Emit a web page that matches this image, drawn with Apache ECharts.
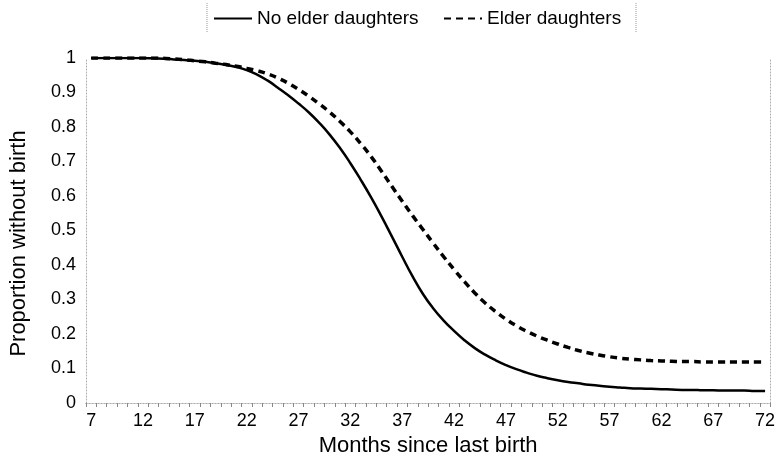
<!DOCTYPE html>
<html>
<head>
<meta charset="utf-8">
<script src="https://cdn.jsdelivr.net/npm/echarts@6/dist/echarts.min.js"></script>
<style>
  html, body { margin: 0; padding: 0; background: #fff; }
  #chart { width: 778px; height: 469px; }
</style>
</head>
<body>
<div id="chart"></div>
<script>
// months since last birth, 7..72
var months = [];
for (var m = 7; m <= 72; m++) months.push(String(m));

var noElder = [
    1.000, 1.000, 1.000, 1.000, 1.000, 1.000, 0.999, 0.998, 0.996, 0.994,
    0.992, 0.989, 0.985, 0.980, 0.974, 0.965, 0.952, 0.935, 0.914, 0.892,
    0.868, 0.842, 0.812, 0.778, 0.739, 0.695, 0.647, 0.596, 0.541, 0.483,
    0.424, 0.367, 0.316, 0.274, 0.239, 0.209, 0.182, 0.159, 0.140, 0.124,
    0.110, 0.098, 0.088, 0.079, 0.072, 0.066, 0.061, 0.057, 0.053, 0.050,
    0.047, 0.045, 0.043, 0.042, 0.041, 0.040, 0.039, 0.038, 0.038, 0.037,
    0.037, 0.036, 0.036, 0.036, 0.035, 0.035
];
var elder = [
    1.000, 1.000, 1.000, 1.000, 1.000, 1.000, 1.000, 0.999, 0.997, 0.995,
    0.992, 0.989, 0.985, 0.981, 0.976, 0.970, 0.963, 0.954, 0.942, 0.927,
    0.909, 0.889, 0.867, 0.843, 0.816, 0.786, 0.752, 0.714, 0.672, 0.628,
    0.585, 0.543, 0.503, 0.463, 0.424, 0.387, 0.352, 0.319, 0.290, 0.265,
    0.243, 0.224, 0.208, 0.194, 0.182, 0.171, 0.161, 0.152, 0.145, 0.139,
    0.134, 0.130, 0.127, 0.125, 0.123, 0.122, 0.121, 0.120, 0.120, 0.119,
    0.119, 0.119, 0.119, 0.119, 0.119, 0.119
];

var font = '"Liberation Sans", Arial, sans-serif';
var frame = { lineStyle: { color: '#aaa', width: 1, type: [1, 2] } };
var legendText = { fontSize: 19, color: '#000', fontFamily: font };

var chart = echarts.init(document.getElementById('chart'));

var option = {
    animation: false,
    textStyle: { fontFamily: font, color: '#000' },
    grid: { left: 75, right: 7, top: 58, bottom: 66 },
    legend: [{
        top: 4,
        left: 208,
        itemWidth: 38,
        itemHeight: 14,
        itemStyle: { opacity: 0 },
        textStyle: legendText,
        data: ['No elder daughters']
    }, {
        top: 4,
        left: 438,
        itemWidth: 38,
        itemHeight: 14,
        itemStyle: { opacity: 0 },
        textStyle: legendText,
        data: ['Elder daughters']
    }],
    graphic: [
        { type: 'line', shape: { x1: 207, y1: 3, x2: 207, y2: 33 }, style: { stroke: '#999', lineWidth: 1, lineDash: [1, 1] } },
        { type: 'line', shape: { x1: 636, y1: 3, x2: 636, y2: 33 }, style: { stroke: '#999', lineWidth: 1, lineDash: [1, 1] } }
    ],
    xAxis: [{
        type: 'category',
        data: months,
        boundaryGap: true,
        name: 'Months since last birth',
        nameLocation: 'middle',
        nameGap: 24,
        nameTextStyle: { fontSize: 22, color: '#000' },
        axisLine: frame,
        axisTick: { show: true, interval: 0, length: 4, lineStyle: { color: '#888' } },
        axisLabel: { interval: 4, fontSize: 18, color: '#000', margin: 9 },
        splitLine: { show: false }
    }, {
        type: 'category',
        data: months,
        position: 'top',
        axisLine: frame,
        axisTick: { show: false },
        axisLabel: { show: false }
    }],
    yAxis: [{
        type: 'value',
        min: 0,
        max: 1,
        interval: 0.1,
        name: 'Proportion without birth',
        nameLocation: 'middle',
        nameGap: 56,
        nameTextStyle: { fontSize: 22, color: '#000', padding: [0, 26, 0, 0] },
        axisLine: Object.assign({ show: true }, frame),
        axisTick: { show: false },
        axisLabel: { fontSize: 18, color: '#000', margin: 10 },
        splitLine: { show: false }
    }, {
        type: 'value',
        min: 0,
        max: 1,
        position: 'right',
        axisLine: Object.assign({ show: true }, frame),
        axisTick: { show: false },
        axisLabel: { show: false },
        splitLine: { show: false }
    }],
    series: [{
        name: 'No elder daughters',
        type: 'line',
        data: noElder,
        symbol: 'none',
        smooth: true,
        lineStyle: { color: '#000', width: 2.5 },
        itemStyle: { color: '#000' }
    }, {
        name: 'Elder daughters',
        type: 'line',
        data: elder,
        symbol: 'none',
        smooth: true,
        lineStyle: { color: '#000', width: 3.5, type: [7, 5] },
        itemStyle: { color: '#000' }
    }]
};

chart.setOption(option);
</script>
</body>
</html>
